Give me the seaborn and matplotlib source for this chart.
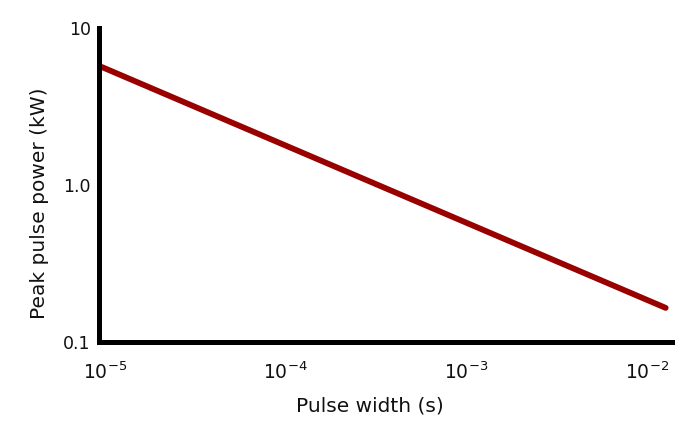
import numpy as np
import pandas as pd
import matplotlib
matplotlib.use('Agg')
import matplotlib.pyplot as plt
import seaborn as sns

# values (straight line on log-log axes)
pulse_width = [9.6e-6, 1.27e-2]
peak_power = [5.65, 0.165]
x_ticks = [1e-5, 1e-4, 1e-3, 1e-2]
x_labels = ['$10^{-5}$', '$10^{-4}$', '$10^{-3}$', '$10^{-2}$']
y_ticks = [0.1, 1.0, 10]
y_labels = ['0.1', '1.0', '10']

sns.set_style('white')
plt.rcParams['font.family'] = ['DejaVu Sans']
plt.rcParams['mathtext.fontset'] = 'dejavusans'

df = pd.DataFrame({'width': pulse_width, 'power': peak_power})

fig = plt.figure(figsize=(6.8, 4.32), dpi=100)
ax = fig.add_axes([0.1456, 0.2083, 0.8424, 0.7267])
sns.lineplot(x='width', y='power', data=df, ax=ax, color='#990000', linewidth=4.2)

ax.set_xscale('log')
ax.set_yscale('log')
ax.set_xlim(10 ** -5.033, 10 ** -1.862)
ax.set_ylim(0.1, 10)
ax.set_xticks(x_ticks)
ax.set_xticklabels(x_labels)
ax.set_yticks(y_ticks)
ax.set_yticklabels(y_labels)
ax.minorticks_off()
ax.tick_params(axis='x', length=0, labelsize=13.5, pad=14, colors='#111111')
ax.tick_params(axis='y', length=0, labelsize=12.5, pad=6, colors='#111111')

for s in ['top', 'right']:
    ax.spines[s].set_visible(False)
for s in ['left', 'bottom']:
    ax.spines[s].set_linewidth(3.6)
    ax.spines[s].set_color('black')

ax.set_xlabel('Pulse width (s)', fontsize=14.5, color='#111111')
ax.set_ylabel('Peak pulse power (kW)', fontsize=14.5, color='#111111')
ax.xaxis.set_label_coords(0.473, -0.175)
ax.yaxis.set_label_coords(-0.087, 0.443)

fig.savefig('out.png', dpi=100)
